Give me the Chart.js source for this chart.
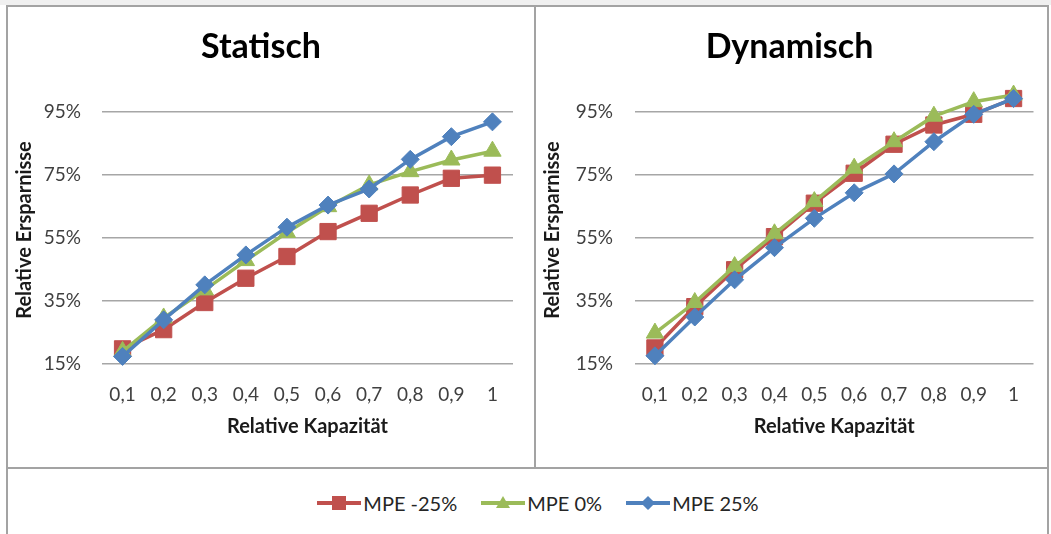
<!DOCTYPE html>
<html>
<head>
<meta charset="utf-8">
<script src="https://cdn.jsdelivr.net/npm/chart.js@4.4.1/dist/chart.umd.min.js"></script>
<style>
  body { margin: 0; width: 1051px; height: 534px; background: #fff; position: relative; overflow: hidden; font-family: Lato, sans-serif; }
  #band { position: absolute; left: 0; top: 0; width: 1051px; height: 5px; background: #f0f0f0; }
  .frame { position: absolute; border: 2px solid #a3a3a3; box-sizing: border-box; }
  canvas { position: absolute; }
  #legend { position: absolute; left: 18px; top: 488px; width: 1040px; height: 30px; display: flex; justify-content: center; align-items: center; }
  .item { display: flex; align-items: center; margin: 0 12px; }
  .sample { position: relative; width: 44px; height: 20px; }
  .sample .ln { position: absolute; left: 0; top: 8px; width: 44px; height: 4px; }
  .sample .mk { position: absolute; }
  .label { font-size: 20px; color: #262626; margin-left: 2px; }
</style>
</head>
<body>
<div id="band"></div>
<div class="frame" style="left:6px;top:5px;width:530px;height:464px"></div>
<div class="frame" style="left:534px;top:5px;width:515px;height:464px"></div>
<div class="frame" style="left:6px;top:467px;width:1043px;height:72px"></div>
<canvas id="statisch" width="524" height="458" style="left:9px;top:8px"></canvas>
<canvas id="dynamisch" width="509" height="458" style="left:537px;top:8px"></canvas>
<div id="legend"></div>
<script>
// data (percent)
const categories = ["0,1", "0,2", "0,3", "0,4", "0,5", "0,6", "0,7", "0,8", "0,9", "1"];
const yTicks = [15, 35, 55, 75, 95];
const seriesNames = ["MPE -25%", "MPE 0%", "MPE 25%"];

const statischMinus25 = [19.8, 25.9, 34.5, 42.2, 49.1, 57.0, 62.8, 68.6, 73.9, 74.9];
const statischZero = [19.0, 29.6, 38.5, 47.8, 56.7, 64.9, 71.8, 76.0, 79.7, 82.5];
const statischPlus25 = [17.4, 29.0, 40.1, 49.6, 58.4, 65.4, 70.5, 79.9, 87.1, 91.8];

const dynamischMinus25 = [20.1, 33.2, 44.9, 55.4, 66.0, 75.5, 84.7, 90.8, 94.2, 99.2];
const dynamischZero = [24.8, 34.5, 45.9, 56.3, 66.5, 77.1, 85.5, 93.6, 98.2, 100.3];
const dynamischPlus25 = [17.6, 29.9, 41.7, 51.9, 61.2, 69.3, 75.3, 85.5, 94.2, 99.2];

// look of the three series (Excel 2007 palette)
const looks = [
  { color: "#C0504D", point: "rect", radius: 11.5, order: 2 },
  { color: "#9BBB59", point: "triangle", radius: 10, order: 1 },
  { color: "#4F81BD", point: "rectRot", radius: 9, order: 0 }
];

function dataset(i, values) {
  const l = looks[i];
  return {
    label: seriesNames[i],
    data: values,
    borderColor: l.color,
    backgroundColor: l.color,
    borderWidth: 3.5,
    pointStyle: l.point,
    pointRadius: l.radius,
    pointHoverRadius: l.radius,
    pointBackgroundColor: l.color,
    pointBorderColor: l.color,
    pointBorderWidth: 1,
    tension: 0,
    clip: false,
    order: l.order
  };
}

function makeChart(id, title, values, yWidth, padRight, tickPad) {
  const ctx = document.getElementById(id).getContext("2d");
  return new Chart(ctx, {
    type: "line",
    data: {
      labels: categories,
      datasets: values.map((v, i) => dataset(i, v))
    },
    options: {
      responsive: false,
      animation: false,
      devicePixelRatio: 1,
      layout: { padding: { left: 0, right: padRight, top: 0, bottom: 0 } },
      plugins: {
        legend: { display: false },
        tooltip: { enabled: false },
        title: {
          display: true,
          text: title,
          color: "#000",
          font: { family: "Lato", size: 34, weight: "bold" },
          padding: { top: 18.6, bottom: 28.6 }
        }
      },
      scales: {
        x: {
          type: "category",
          offset: true,
          grid: { display: false, drawTicks: false },
          border: { display: false },
          ticks: {
            color: "#404040",
            font: { family: "Lato", size: 19 },
            padding: 19,
            maxRotation: 0,
            autoSkip: false
          },
          title: {
            display: true,
            text: "Relative Kapazität",
            color: "#1a1a1a",
            font: { family: "Lato", size: 20, weight: "bold" },
            padding: { top: 4, bottom: 27 }
          },
          afterFit: (scale) => { scale.height = 102; }
        },
        y: {
          min: 15,
          max: 100,
          grid: { color: "#a6a6a6", lineWidth: 1.5, drawTicks: false },
          border: { display: false },
          afterBuildTicks: (scale) => { scale.ticks = yTicks.map((v) => ({ value: v })); },
          ticks: {
            color: "#404040",
            font: { family: "Lato", size: 19 },
            padding: tickPad,
            callback: (v) => v + "%"
          },
          title: {
            display: true,
            text: "Relative Ersparnisse",
            color: "#1a1a1a",
            font: { family: "Lato", size: 20, weight: "bold" },
            padding: { top: 4, bottom: 0 }
          },
          afterFit: (scale) => { scale.width = yWidth; }
        }
      }
    }
  });
}

makeChart("statisch", "Statisch", [statischMinus25, statischZero, statischPlus25], 93, 20, 21);
makeChart("dynamisch", "Dynamisch", [dynamischMinus25, dynamischZero, dynamischPlus25], 98, 4, 22);

// shared legend below both charts
const legend = document.getElementById("legend");
seriesNames.forEach((name, i) => {
  const l = looks[i];
  const item = document.createElement("div");
  item.className = "item";
  const sample = document.createElement("div");
  sample.className = "sample";
  const ln = document.createElement("div");
  ln.className = "ln";
  ln.style.background = l.color;
  sample.appendChild(ln);
  const mk = document.createElement("div");
  mk.className = "mk";
  if (l.point === "rect") {
    Object.assign(mk.style, { left: "15px", top: "3px", width: "14px", height: "14px", background: l.color });
  } else if (l.point === "triangle") {
    Object.assign(mk.style, { left: "15px", top: "3px", width: "0", height: "0",
      borderLeft: "7px solid transparent", borderRight: "7px solid transparent", borderBottom: "12px solid " + l.color });
  } else {
    Object.assign(mk.style, { left: "17px", top: "5px", width: "10px", height: "10px", background: l.color, transform: "rotate(45deg)" });
  }
  sample.appendChild(mk);
  const txt = document.createElement("span");
  txt.className = "label";
  txt.textContent = name;
  item.appendChild(sample);
  item.appendChild(txt);
  legend.appendChild(item);
});
</script>
</body>
</html>
